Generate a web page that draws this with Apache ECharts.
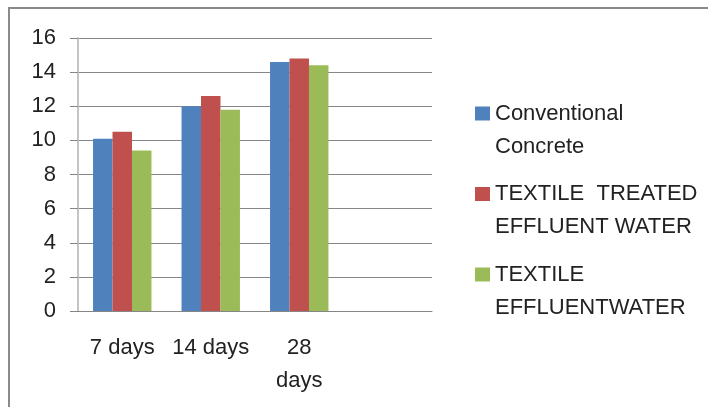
<!DOCTYPE html>
<html>
<head>
<meta charset="utf-8">
<script src="https://cdn.jsdelivr.net/npm/echarts@6/dist/echarts.min.js"></script>
<style>
	html, body { margin: 0; padding: 0; background: #fff; }
	#chart { width: 708px; height: 407px; }
</style>
</head>
<body>
<div id="chart"></div>
<script>
// categories (last slot is empty in the original)
var categories = ['7 days', '14 days', '28 days', ''];
var yTicks = { min: 0, max: 16, step: 2 };

// series
var conventional = [10.1, 12.0, 14.6, null];
var treated      = [10.5, 12.6, 14.8, null];
var effluent     = [9.4, 11.8, 14.4, null];

var seriesNames = [
	'Conventional\nConcrete',
	'TEXTILE  TREATED\nEFFLUENT WATER',
	'TEXTILE\nEFFLUENTWATER'
];
var colors = ['#4F81BD', '#C0504D', '#9BBB59'];

var font = "'Liberation Sans', Arial, sans-serif";
var myChart = echarts.init(document.getElementById('chart'));

// legend square sits beside the first text line: square in the top part of a 66px tall icon box
var legendIcon = 'path://M0,9.5H15V23.5H0Z M0,0L0,0.01 M0,65.99L0,66';

myChart.setOption({
	animation: false,
	color: colors,
	textStyle: { fontFamily: font },
	// outer frame of the chart area
	graphic: [{
		type: 'rect',
		shape: { x: 9, y: 8, width: 800, height: 500 },
		style: { fill: 'none', stroke: '#8a8a8a', lineWidth: 2 },
		silent: true
	}],
	grid: { left: 78, right: 276, top: 38, bottom: 96 },
	legend: {
		orient: 'vertical',
		left: 475,
		top: 97,
		padding: 0,
		itemWidth: 15,
		itemHeight: 66,
		itemGap: 14.5,
		icon: legendIcon,
		itemStyle: { borderWidth: 0 },
		textStyle: {
			fontFamily: font,
			fontSize: 22,
			lineHeight: 33,
			color: '#222'
		}
	},
	xAxis: {
		type: 'category',
		data: categories,
		axisLine: { lineStyle: { color: '#868686', width: 1 } },
		axisTick: { alignWithLabel: false, length: 7, lineStyle: { color: '#bfbfbf', width: 2 } },
		axisLabel: {
			fontFamily: font,
			fontSize: 22,
			lineHeight: 33,
			color: '#222',
			margin: 20,
			interval: 0,
			formatter: function (v, i) { return i === 2 ? v.replace(' ', '\n') : v; }
		}
	},
	yAxis: {
		type: 'value',
		min: yTicks.min,
		max: yTicks.max,
		interval: yTicks.step,
		axisLine: { show: true, lineStyle: { color: '#c4c4c4', width: 2 } },
		axisTick: { show: true, length: 8, lineStyle: { color: '#868686' } },
		splitLine: { lineStyle: { color: '#868686', width: 1 } },
		axisLabel: { fontFamily: font, fontSize: 22, color: '#222', margin: 22 }
	},
	series: [
		{ name: seriesNames[0], type: 'bar', data: conventional, barGap: '0%', barCategoryGap: '34%' },
		{ name: seriesNames[1], type: 'bar', data: treated, barGap: '0%', barCategoryGap: '34%' },
		{ name: seriesNames[2], type: 'bar', data: effluent, barGap: '0%', barCategoryGap: '34%' }
	]
});
</script>
</body>
</html>
